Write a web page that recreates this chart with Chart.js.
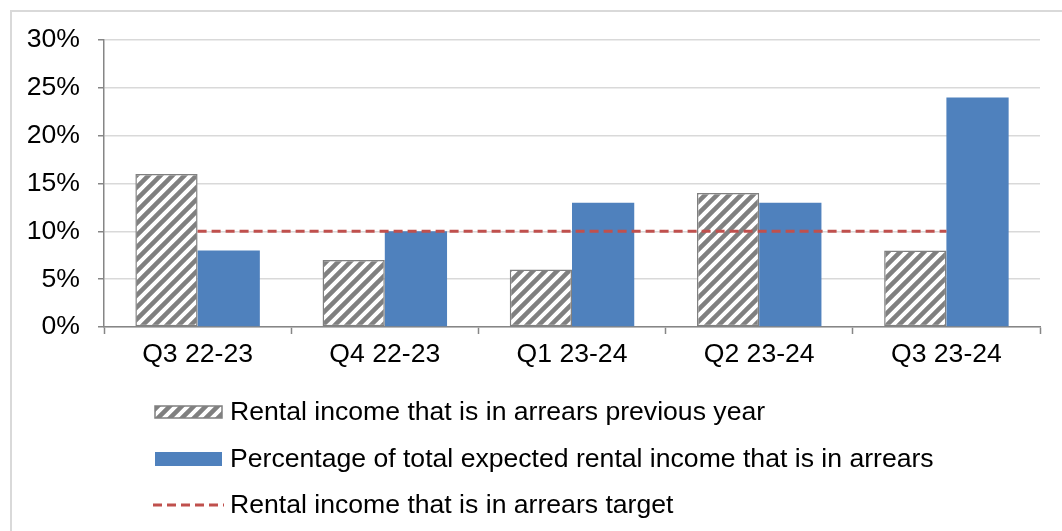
<!DOCTYPE html>
<html>
<head>
<meta charset="utf-8">
<script src="https://cdn.jsdelivr.net/npm/chart.js@4/dist/chart.umd.min.js"></script>
<style>
html,body{margin:0;padding:0;background:#fff;}
canvas{display:block;}
</style>
</head>
<body>
<canvas id="c" width="1062" height="531"></canvas>
<script>
const categories = ["Q3 22-23", "Q4 22-23", "Q1 23-24", "Q2 23-24", "Q3 23-24"];
const previousYear = [16, 7, 6, 14, 8];
const currentPct = [8, 10, 13, 13, 24];
const target = [10, 10, 10, 10, 10];
const seriesNames = [
  "Rental income that is in arrears previous year",
  "Percentage of total expected rental income that is in arrears",
  "Rental income that is in arrears target"
];
const yTicks = [0, 5, 10, 15, 20, 25, 30];

function makeHatch(){
  const s = 12;
  const t = document.createElement('canvas');
  t.width = s; t.height = s;
  const g = t.getContext('2d');
  g.fillStyle = '#ffffff';
  g.fillRect(0,0,s,s);
  g.strokeStyle = '#808080';
  g.lineWidth = 4.5;
  g.beginPath();
  for (let k=-1;k<=1;k++){
    g.moveTo(-2 + k*s, s+2); g.lineTo(s+2 + k*s, -2);
  }
  g.stroke();
  return g.createPattern(t, 'repeat');
}
const ctx = document.getElementById('c').getContext('2d');
const hatch = makeHatch();

const FONT = '"Liberation Sans", Arial, sans-serif';
const FS = 26.6;

const framePlugin = {
  id: 'frame',
  beforeDraw(chart){
    const c = chart.ctx;
    c.save();
    c.fillStyle = '#ffffff';
    c.fillRect(0,0,chart.width,chart.height);
    c.strokeStyle = '#D9D9D9';
    c.lineWidth = 2;
    c.strokeRect(11, 11, chart.width, chart.height);
    c.restore();
  }
};

const legendPlugin = {
  id: 'customLegend',
  afterDraw(chart){
    const c = chart.ctx;
    const ds = chart.data.datasets;
    const x0 = 155, x1 = 222, tx = 230;
    const ys = [412, 459, 505];
    c.save();
    c.font = FS + 'px ' + FONT;
    c.textBaseline = 'middle';
    c.fillStyle = hatch;
    c.fillRect(x0, ys[0]-6, x1-x0, 12);
    c.strokeStyle = '#808080';
    c.lineWidth = 1.5;
    c.strokeRect(x0, ys[0]-6, x1-x0, 12);
    c.fillStyle = '#4F81BD';
    c.fillRect(x0, ys[1]-7, x1-x0, 14);
    c.strokeStyle = '#C0504D';
    c.lineWidth = 3;
    c.setLineDash([9,5]);
    c.beginPath();
    c.moveTo(x0-2, ys[2]); c.lineTo(x1+2, ys[2]);
    c.stroke();
    c.setLineDash([]);
    c.fillStyle = '#000';
    for (let i=0;i<ds.length;i++){
      c.fillText(ds[i].label, tx, ys[i]+1);
    }
    c.restore();
  }
};

new Chart(ctx, {
  data: {
    labels: categories,
    datasets: [
      {
        type: 'bar',
        label: seriesNames[0],
        data: previousYear,
        backgroundColor: hatch,
        borderColor: '#808080',
        borderWidth: 1.5,
        borderSkipped: false,
        categoryPercentage: 0.665,
        barPercentage: 1.0,
        order: 2
      },
      {
        type: 'bar',
        label: seriesNames[1],
        data: currentPct,
        backgroundColor: '#4F81BD',
        borderWidth: 0,
        categoryPercentage: 0.665,
        barPercentage: 1.0,
        order: 2
      },
      {
        type: 'line',
        label: seriesNames[2],
        data: target,
        borderColor: '#C0504D',
        borderWidth: 3,
        borderDash: [9,5],
        pointRadius: 0,
        fill: false,
        order: 1
      }
    ]
  },
  options: {
    responsive: false,
    animation: false,
    devicePixelRatio: 1,
    layout: { padding: { left: 0, right: 22, top: 40, bottom: 0 } },
    plugins: {
      legend: { display: false },
      tooltip: { enabled: false }
    },
    scales: {
      x: {
        offset: true,
        grid: {
          offset: true,
          drawOnChartArea: false,
          drawTicks: true,
          tickLength: 7,
          tickColor: '#868686',
          tickWidth: 1.5
        },
        border: { color: '#868686', width: 1.5 },
        ticks: {
          color: '#000',
          font: { family: FONT, size: FS },
          padding: 5
        },
        afterFit(scale){ scale.height = 204; }
      },
      y: {
        min: 0,
        max: 30,
        afterBuildTicks(scale){ scale.ticks = yTicks.map(v => ({value: v})); },
        grid: {
          color: '#D9D9D9',
          lineWidth: 1.5,
          drawTicks: true,
          tickLength: 6,
          tickColor: '#868686'
        },
        border: { color: '#868686', width: 1.5 },
        ticks: {
          color: '#000',
          font: { family: FONT, size: FS },
          padding: 18,
          callback: v => v + '%'
        },
        afterFit(scale){ scale.width = 104; }
      }
    }
  },
  plugins: [framePlugin, legendPlugin]
});
</script>
</body>
</html>
